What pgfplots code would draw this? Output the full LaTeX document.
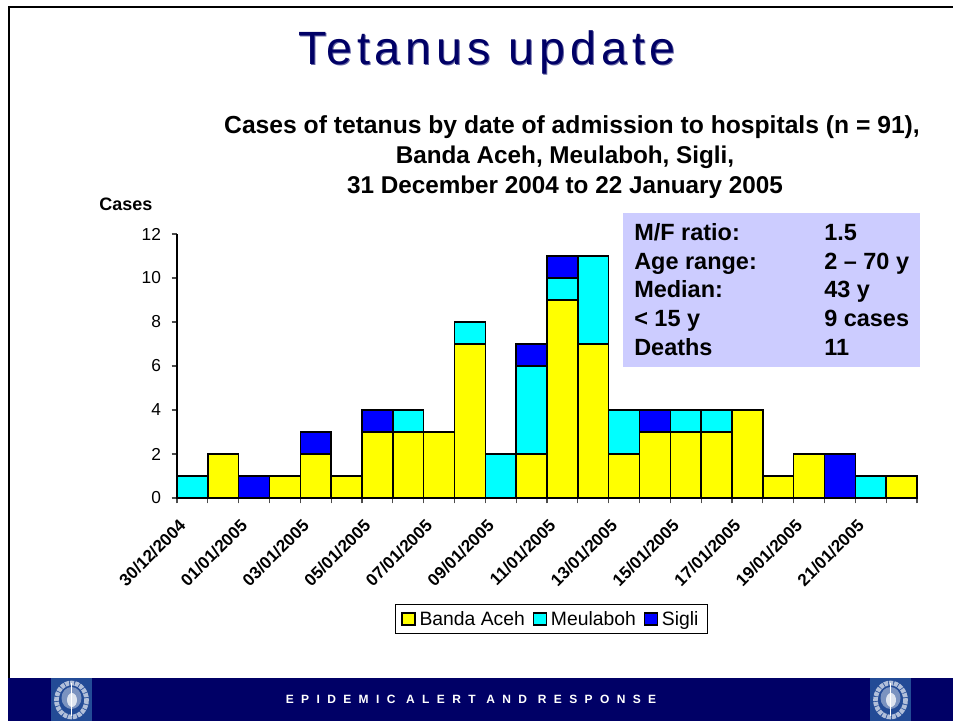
\documentclass[border=0pt]{standalone}
\usepackage{fontspec}
\setmainfont{Liberation Sans}
\newfontfamily\titlefont[LetterSpace=10.5]{Liberation Sans}
\newfontfamily\footfont[LetterSpace=61.5]{Liberation Sans}
\usepackage{pgfplots}
\pgfplotsset{compat=1.18}
\usepackage{pgfplotstable}
\definecolor{navyb}{RGB}{0,0,102}
\definecolor{boxc}{RGB}{204,204,255}
\definecolor{logob}{RGB}{35,75,150}
\definecolor{cy}{RGB}{0,255,255}
\definecolor{bl}{RGB}{0,0,255}
\definecolor{ye}{RGB}{255,255,0}
\newcommand{\fs}[1]{\fontsize{#1}{#1}\selectfont}
\pgfplotstableread{
x b m s
0.5 0 1 0
1.5 2 0 0
2.5 0 0 1
3.5 1 0 0
4.5 2 0 1
5.5 1 0 0
6.5 3 0 1
7.5 3 1 0
8.5 3 0 0
9.5 7 1 0
10.5 0 2 0
11.5 2 4 1
12.5 9 1 1
13.5 7 4 0
14.5 2 2 0
15.5 3 0 1
16.5 3 1 0
17.5 3 1 0
18.5 4 0 0
19.5 1 0 0
20.5 2 0 0
21.5 0 0 2
22.5 0 1 0
23.5 1 0 0
}\tet
\begin{document}
\begin{tikzpicture}[x=0.75pt,y=-0.75pt,yshift=540.75pt]
\useasboundingbox (0,0) rectangle (953,721);
% frame
\fill[white] (0,0) rectangle (953,721);
\draw[black,line width=1.5pt] (9,680) -- (9,7.5) -- (953,7.5);
\fill[navyb] (8,678) rectangle (953,721);
\foreach \lx in {51,870}{
  \fill[logob] (\lx,678) rectangle (\lx+41,721);
  \draw[white!65!logob,line width=3.5pt,dash pattern=on 3pt off 0.7pt] (\lx+20.5,700) ellipse (15 and 17);
  \fill[logob!60!white] (\lx+20.5,698) ellipse (10 and 11);
  \fill[white!85!logob] (\lx+21,700) ellipse (5 and 7);
  \draw[white,line width=1pt] (\lx+20.5,683) -- (\lx+20.5,716);
}
\node[text=white,font=\footfont\bfseries\fs{9}] at (471,699.5) {EPIDEMIC ALERT AND RESPONSE};
% titles
\node[text=navyb!60!white,font=\titlefont\fs{35}] at (488,53) {Tetanus update};
\node[text=navyb,font=\titlefont\fs{35}] at (487,52) {Tetanus update};
\node[font=\bfseries\fs{18.5}] at (572,127.5) {Cases of tetanus by date of admission to hospitals (n = 91),};
\node[font=\bfseries\fs{18.2}] at (565,157.5) {Banda Aceh, Meulaboh, Sigli,};
\node[font=\bfseries\fs{18.2}] at (565,187.5) {31 December 2004 to 22 January 2005};
\node[font=\bfseries\fs{13.5}] at (126,204) {Cases};
\begin{axis}[
  at={(132.75pt,-373.5pt)},anchor=south west,
  width=555pt,height=198pt,scale only axis,
  ybar stacked,bar width=23.125pt,
  xmin=0,xmax=24,ymin=0,ymax=12,
  axis x line*=bottom,axis y line*=left,
  axis line style={line width=1pt,-},
  xtick={0,...,24},
  xticklabels={},
  ytick={0,2,...,12},
  tick align=outside,
  major tick length=4pt,
  tick style={line width=0.8pt,black!70},
  /pgf/number format/assume math mode=true,
  yticklabel style={font=\fs{13},xshift=-4.5pt},
  legend columns=3,
  legend style={at={(0.2946,-0.4015)},anchor=north west,
     draw=black,line width=0.7pt,font=\fs{14.5},
     inner xsep=4.5pt,inner ysep=2.9pt,
     /tikz/every even column/.append style={column sep=4pt},
     /tikz/every odd column/.append style={column sep=1pt}},
  legend image code/.code={\draw[#1,draw=black,line width=0.8pt] (0pt,-4.5pt) rectangle (9.75pt,4.5pt);},
  clip=false,
  extra x ticks={0,2,...,22},
  extra x tick labels={30/12/2004,01/01/2005,03/01/2005,05/01/2005,07/01/2005,09/01/2005,11/01/2005,13/01/2005,15/01/2005,17/01/2005,19/01/2005,21/01/2005},
  extra x tick style={major tick length=0pt,
     xticklabel style={rotate=45,anchor=north east,font=\bfseries\fs{12.8},inner sep=0pt,yshift=-11pt,xshift=-10pt}},
]
\addplot[fill=ye,draw=black,line width=1.1pt] table[x=x,y=b] {\tet};
\addplot[fill=cy,draw=black,line width=1.1pt] table[x=x,y=m] {\tet};
\addplot[fill=bl,draw=black,line width=1.1pt] table[x=x,y=s] {\tet};
\legend{Banda Aceh,Meulaboh,Sigli}
\end{axis}
% info box
\fill[boxc] (623,213) rectangle (920,367);
\foreach \yy/\a/\b in {241/M\slash F ratio:/1.5,270/Age range:/2 -- 70 y,298/Median:/43 y,327/< 15 y/9 cases,356/Deaths/11}{
  \node[anchor=base west,inner sep=0pt,font=\bfseries\fs{17.6}] at (634,\yy) {\a};
  \node[anchor=base west,inner sep=0pt,font=\bfseries\fs{17.6}] at (824,\yy) {\b};
}
\end{tikzpicture}
\end{document}
